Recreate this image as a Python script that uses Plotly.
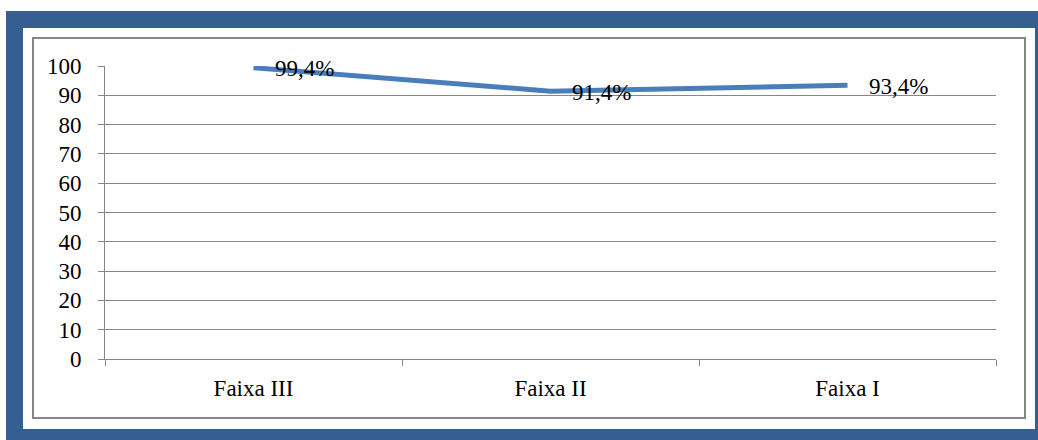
import plotly.graph_objects as go

categories = ["Faixa III", "Faixa II", "Faixa I"]
values = [99.4, 91.4, 93.4]
labels = ["99,4%", "91,4%", "93,4%"]
y_ticks = [0, 10, 20, 30, 40, 50, 60, 70, 80, 90, 100]

W, H = 1038, 440
L, R, T, B = 105, 42, 66, 81
pw, ph = W - L - R, H - T - B

def px(x):
    return (x - L) / pw

def py(y):
    return (H - B - y) / ph

FONT = "Liberation Serif, Times New Roman, serif"
GRAY = "#868686"
BLUE = "#365F91"
FS = 23

fig = go.Figure()
fig.add_trace(go.Scatter(
    x=categories, y=values, mode="lines",
    line=dict(color="#4A7EBB", width=5),
    hoverinfo="skip", showlegend=False,
))

for c, v, t in zip(categories, values, labels):
    fig.add_annotation(x=c, y=v, text=t, showarrow=False,
                       xanchor="left", yanchor="middle", xshift=19, yshift=-1,
                       font=dict(family=FONT, size=FS, color="black"))

shapes = [
    dict(type="rect", xref="paper", yref="paper", layer="below",
         x0=px(6), x1=px(1040), y0=py(11), y1=py(442),
         fillcolor=BLUE, line=dict(width=0)),
    dict(type="rect", xref="paper", yref="paper", layer="below",
         x0=px(23), x1=px(1035), y0=py(28), y1=py(429),
         fillcolor="white", line=dict(width=0)),
    dict(type="rect", xref="paper", yref="paper", layer="below",
         x0=px(33), x1=px(1025), y0=py(38), y1=py(418),
         fillcolor="white", line=dict(color=GRAY, width=2)),
]

fig.update_layout(
    width=W, height=H,
    margin=dict(l=L, r=R, t=T, b=B, pad=0),
    paper_bgcolor="white", plot_bgcolor="rgba(0,0,0,0)",
    shapes=shapes,
    font=dict(family=FONT, size=FS, color="black"),
    xaxis=dict(type="category", range=[-0.5, len(categories) - 0.5], showgrid=False,
               showline=True, linecolor=GRAY, linewidth=1,
               ticks="outside", tickson="boundaries", ticklen=6, tickcolor=GRAY,
               ticklabelstandoff=8, zeroline=False, fixedrange=True),
    yaxis=dict(range=[0, 100], tickvals=y_ticks, showgrid=True, gridcolor=GRAY, gridwidth=1,
               showline=True, linecolor=GRAY, linewidth=1, ticks="outside", ticklen=6,
               tickcolor=GRAY, ticklabelstandoff=12, zeroline=False, fixedrange=True),
)

fig.write_html("out.html")
